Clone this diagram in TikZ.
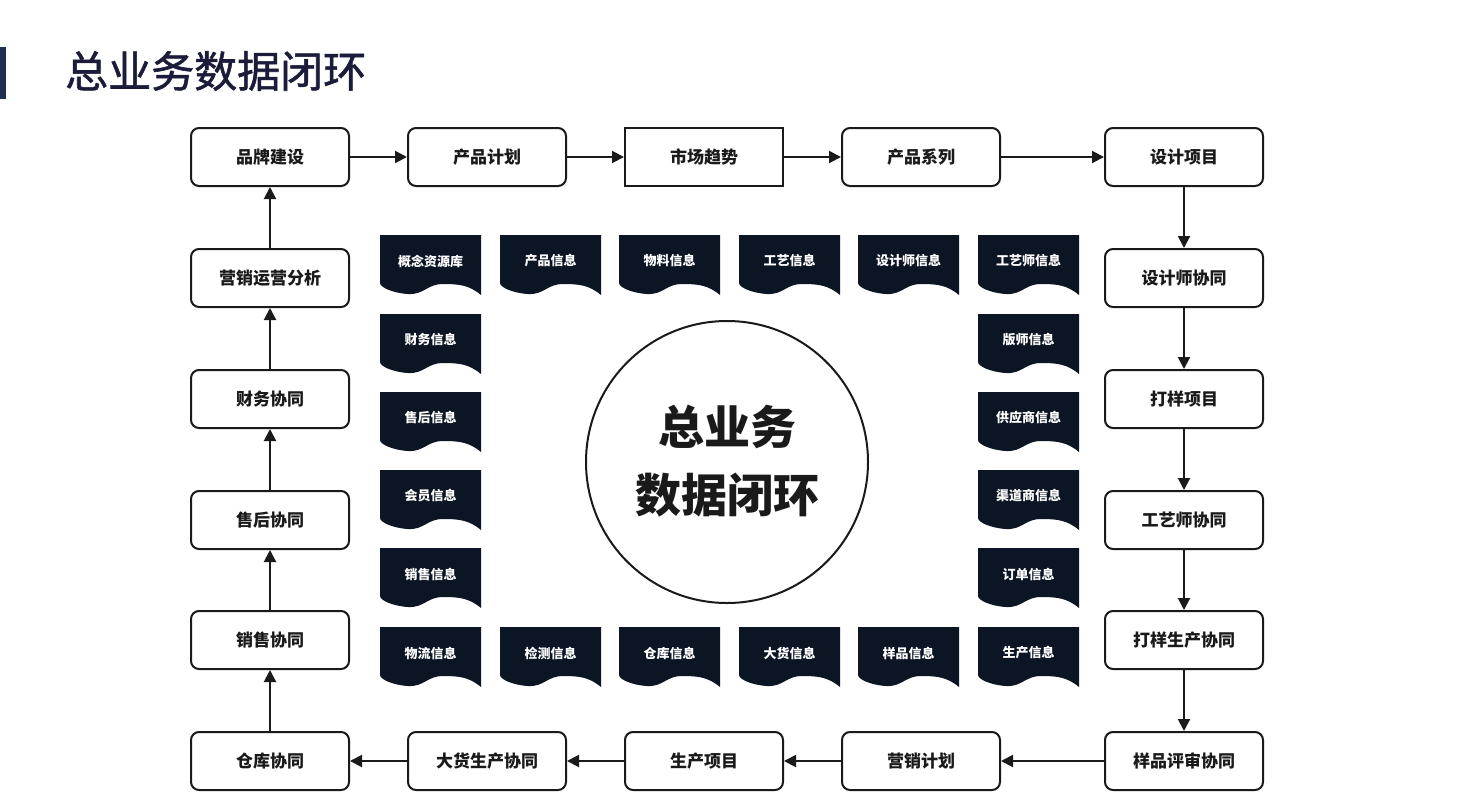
\documentclass[tikz,border=0pt]{standalone}
\usepackage{fontspec}
\setmainfont{Noto Sans CJK SC}
\newfontfamily\titlefont{Noto Sans CJK SC}[FakeBold=1.3]
\usetikzlibrary{arrows.meta}
\definecolor{docc}{HTML}{0B1524}
\definecolor{linec}{HTML}{1A1A1A}
\definecolor{titlec}{HTML}{1A1C3A}
\definecolor{barc}{HTML}{1E3050}
\tikzset{
  box/.style={draw=linec, line width=2pt, rounded corners=8pt, minimum width=158pt, minimum height=58pt, inner sep=0pt, font=\fontsize{17}{20}\selectfont\bfseries, text=linec, fill=white},
  sqbox/.style={box, rounded corners=0pt},
  conn/.style={draw=linec, line width=2pt, -{Triangle[length=12pt,width=12pt]}},
  doclabel/.style={font=\fontsize{13}{15}\selectfont\bfseries, text=white, inner sep=0pt},
}
\newcommand{\docshape}[3]{% x, y(top), label
  \fill[docc] (#1,#2) -- ++(101,0) -- ++(0,60)
    .. controls ++(-12,-10) and ++(16,0) .. ++(-38,-11)
    .. controls ++(-16,0) and ++(16,1) .. ++(-35,10)
    .. controls ++(-16,-1) and ++(0,4) .. ++(-28,-11) -- cycle;
  \node[doclabel] at (#1+50.5,#2+26) {#3};
}
\begin{document}
\begin{tikzpicture}[x=1pt,y=-1pt]
\useasboundingbox (0,0) rectangle (1465,801);
\fill[white] (0,0) rectangle (1465,801);
% title
\fill[barc] (0,47) rectangle (6,99);
\node[anchor=west, inner sep=0pt, font=\titlefont\fontsize{43}{46}\selectfont, text=titlec] (title) at (65,71) {总业务数据闭环};
% boxes
\node[box] (b1) at (270,157) {品牌建设};
\node[box] (b2) at (487,157) {产品计划};
\node[sqbox] (b3) at (704,157) {市场趋势};
\node[box] (b4) at (921,157) {产品系列};
\node[box] (b5) at (1184,157) {设计项目};
\node[box] (r2) at (1184,278) {设计师协同};
\node[box] (r3) at (1184,399) {打样项目};
\node[box] (r4) at (1184,520) {工艺师协同};
\node[box] (r5) at (1184,640) {打样生产协同};
\node[box] (r6) at (1184,761) {样品评审协同};
\node[box] (d4) at (921,761) {营销计划};
\node[box] (d3) at (704,761) {生产项目};
\node[box] (d2) at (487,761) {大货生产协同};
\node[box] (d1) at (270,761) {仓库协同};
\node[box] (l5) at (270,640) {销售协同};
\node[box] (l4) at (270,520) {售后协同};
\node[box] (l3) at (270,399) {财务协同};
\node[box] (l2) at (270,278) {营销运营分析};
% connectors
\draw[conn] (b1) -- (b2);
\draw[conn] (b2) -- (b3);
\draw[conn] (b3) -- (b4);
\draw[conn] (b4) -- (b5);
\draw[conn] (b5) -- (r2);
\draw[conn] (r2) -- (r3);
\draw[conn] (r3) -- (r4);
\draw[conn] (r4) -- (r5);
\draw[conn] (r5) -- (r6);
\draw[conn] (r6) -- (d4);
\draw[conn] (d4) -- (d3);
\draw[conn] (d3) -- (d2);
\draw[conn] (d2) -- (d1);
\draw[conn] (d1) -- (l5);
\draw[conn] (l5) -- (l4);
\draw[conn] (l4) -- (l3);
\draw[conn] (l3) -- (l2);
\draw[conn] (l2) -- (b1);
% circle
\node[draw=linec, line width=2pt, circle, minimum size=282pt, inner sep=0pt] (c) at (727,462) {};
\node[font=\fontsize{46}{50}\selectfont\bfseries, text=linec, inner sep=0pt] (c1) at (727,427) {总业务};
\node[font=\fontsize{46}{50}\selectfont\bfseries, text=linec, inner sep=0pt] (c2) at (727,495) {数据闭环};
% documents
\docshape{380}{235}{概念资源库}
\docshape{500}{235}{产品信息}
\docshape{619}{235}{物料信息}
\docshape{739}{235}{工艺信息}
\docshape{858}{235}{设计师信息}
\docshape{978}{235}{工艺师信息}
\docshape{380}{314}{财务信息}
\docshape{978}{314}{版师信息}
\docshape{380}{392}{售后信息}
\docshape{978}{392}{供应商信息}
\docshape{380}{470}{会员信息}
\docshape{978}{470}{渠道商信息}
\docshape{380}{548}{销售信息}
\docshape{978}{548}{订单信息}
\docshape{380}{627}{物流信息}
\docshape{500}{627}{检测信息}
\docshape{619}{627}{仓库信息}
\docshape{739}{627}{大货信息}
\docshape{858}{627}{样品信息}
\docshape{978}{627}{生产信息}
\end{tikzpicture}
\end{document}
